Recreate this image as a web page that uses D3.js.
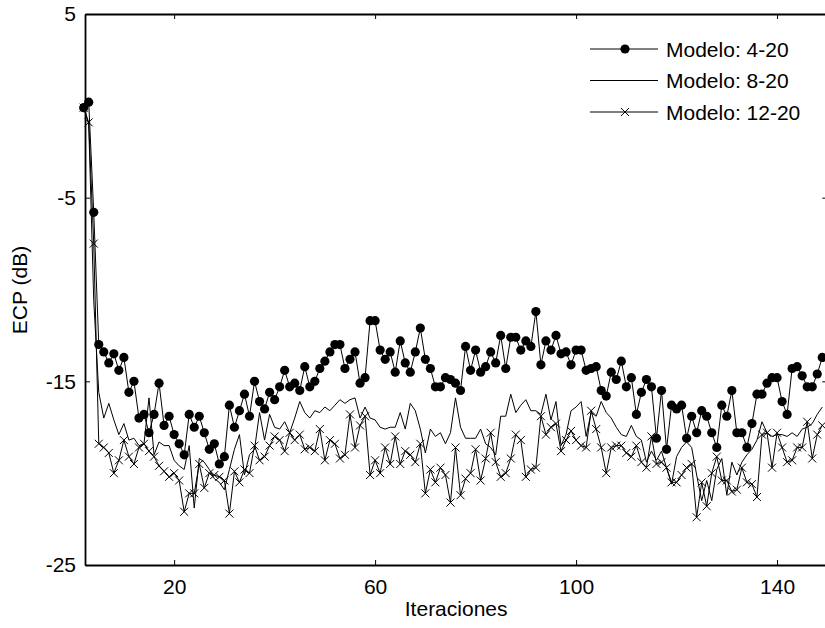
<!DOCTYPE html>
<html>
<head>
<meta charset="utf-8">
<script src="https://cdn.jsdelivr.net/npm/d3@7"></script>
<style>
  body { margin: 0; background: #fff; }
  svg { display: block; }
  text { font-family: "Liberation Sans", Arial, sans-serif; fill: #000; }
</style>
</head>
<body>
<svg id="chart" width="825" height="628"></svg>
<script>
// iteration index of every sample
const iteraciones = d3.range(2, 150);

// ECP (dB) per model
const modelo4 = [
  -0.1, 0.2, -5.8, -13.0, -13.4, -14.0, -13.5, -14.4, -13.7, -15.6,
  -15.0, -17.0, -16.8, -17.8, -16.8, -15.1, -17.4, -16.9, -17.9, -18.4,
  -19.0, -16.8, -17.5, -16.9, -17.8, -18.7, -18.4, -19.5, -19.1, -16.3,
  -17.5, -16.6, -15.7, -16.9, -15.0, -16.1, -16.5, -15.6, -16.0, -15.3,
  -14.4, -15.3, -15.1, -15.5, -14.2, -15.3, -15.0, -14.3, -13.9, -13.4,
  -13.0, -13.0, -14.3, -13.8, -13.4, -15.1, -14.8, -11.7, -11.7, -13.3,
  -13.8, -13.4, -14.5, -12.8, -14.0, -14.5, -13.4, -12.1, -13.8, -14.3,
  -15.3, -15.3, -14.8, -14.9, -15.1, -15.5, -13.1, -14.4, -13.3, -14.5,
  -14.2, -13.4, -14.0, -12.5, -14.3, -12.6, -12.6, -13.3, -12.8, -13.1,
  -11.2, -14.1, -12.8, -13.3, -12.5, -13.5, -13.4, -14.1, -13.3, -13.3,
  -14.4, -14.3, -14.2, -15.5, -15.8, -14.5, -14.9, -13.9, -15.3, -14.8,
  -16.8, -15.6, -14.9, -15.3, -18.1, -15.5, -18.7, -16.3, -16.5, -16.3,
  -18.1, -16.9, -17.8, -16.6, -16.9, -17.8, -18.6, -16.3, -16.9, -15.5,
  -17.8, -17.8, -18.6, -17.3, -15.7, -15.7, -15.1, -14.8, -14.8, -16.1,
  -16.8, -14.3, -14.2, -14.7, -15.3, -15.3, -14.6, -13.7
];
const modelo8 = [
  -0.1, -1.0, -10.6, -15.6, -17.0, -16.2, -17.1, -17.9, -17.3, -18.2,
  -18.1, -18.5, -18.4, -15.9, -19.0, -18.3, -18.5, -18.5, -19.3, -19.6,
  -19.8, -18.5, -21.9, -19.2, -19.4, -19.8, -20.3, -20.5, -20.9, -19.8,
  -18.7, -17.9, -20.1, -19.0, -18.7, -16.7, -18.2, -16.8, -17.5, -17.6,
  -17.2, -17.8, -17.0, -16.1, -16.7, -17.0, -16.6, -16.7, -16.4, -16.6,
  -16.3, -16.0, -16.2, -16.0, -15.9, -17.0, -16.4, -17.0, -17.1, -17.5,
  -17.6, -17.5, -17.5, -16.7, -17.6, -16.2, -16.6, -17.6, -18.9, -17.6,
  -18.0, -17.8, -18.4, -17.8, -15.9, -17.5, -18.1, -18.1, -18.1, -17.6,
  -18.4, -18.6, -19.0, -16.9, -16.9, -15.7, -16.7, -16.3, -16.0, -16.6,
  -16.6, -16.8, -15.7, -17.1, -16.1, -18.5, -17.9, -16.6, -16.4, -16.1,
  -18.0, -16.7, -16.9, -16.1, -16.7, -17.0, -17.5, -17.9, -18.0, -17.4,
  -18.0, -18.2, -19.4, -18.8, -19.3, -18.8, -19.7, -20.6, -19.1, -18.6,
  -18.3, -18.6, -20.1, -21.5, -20.4, -21.5, -19.8, -19.2, -21.2, -19.4,
  -20.1, -19.4, -19.0, -18.7, -18.2, -17.2, -17.8, -18.0, -17.9, -17.9,
  -18.0, -17.8, -18.0, -17.6, -17.5, -17.3, -16.8, -16.4
];
const modelo12 = [
  -0.1, -0.9, -7.5, -18.4, -18.6, -18.9, -20.0, -19.3, -18.2, -19.1,
  -19.5, -18.6, -18.4, -18.8, -19.1, -19.6, -19.9, -20.2, -20.0, -20.4,
  -22.1, -21.1, -21.1, -19.5, -20.8, -20.0, -20.1, -20.2, -20.4, -22.2,
  -19.9, -20.5, -19.8, -20.0, -18.5, -19.3, -19.1, -18.5, -18.0, -18.2,
  -18.8, -17.8, -18.2, -17.9, -18.7, -18.6, -18.8, -17.6, -19.3, -18.2,
  -18.4, -19.2, -19.0, -16.8, -18.6, -17.4, -16.9, -20.1, -19.3, -20.0,
  -18.6, -19.5, -18.0, -19.5, -18.8, -19.0, -19.4, -18.4, -21.1, -19.8,
  -20.5, -19.7, -20.1, -21.6, -18.6, -21.2, -20.3, -20.0, -18.7, -20.4,
  -19.2, -17.8, -19.4, -20.2, -20.0, -19.2, -17.9, -18.2, -20.2, -19.8,
  -19.7, -16.9, -17.9, -17.5, -17.3, -18.8, -18.2, -17.7, -18.2, -18.5,
  -18.6, -16.6, -17.6, -18.6, -20.0, -18.6, -18.5, -18.5, -18.9, -19.1,
  -18.5, -19.4, -19.7, -18.0, -19.5, -19.4, -19.7, -20.5, -20.5, -20.1,
  -19.7, -19.5, -22.4, -20.5, -21.8, -20.0, -19.1, -20.4, -20.4, -21.0,
  -20.9, -19.7, -20.5, -20.6, -21.3, -17.9, -17.8, -19.7, -17.8, -18.6,
  -19.4, -19.3, -18.6, -18.6, -17.2, -19.2, -17.9, -17.4
];

const seriesNames = ["Modelo: 4-20", "Modelo: 8-20", "Modelo: 12-20"];
const xTicks = [20, 60, 100, 140];
const yTicks = [5, -5, -15, -25];

const svg = d3.select("#chart");
const plotLeft = 85, plotTop = 14, plotBottom = 565, plotRight = 827.3;
const fontSize = "21px";

const x = d3.scaleLinear().domain([2.26, 150]).range([plotLeft, plotRight]);
const y = d3.scaleLinear().domain([-25, 5]).range([plotBottom, plotTop]);

const series = [
  { name: seriesNames[0], values: modelo4, marker: "dot" },
  { name: seriesNames[1], values: modelo8, marker: "none" },
  { name: seriesNames[2], values: modelo12, marker: "cross" }
];

const line = d3.line()
  .x((d, i) => x(iteraciones[i]))
  .y(d => y(d));

const crossPath = "M-4,-4L4,4M-4,4L4,-4";

const plot = svg.append("g");

// draw from back to front so the dots stay on top
series.slice().reverse().forEach(s => {
  plot.append("path")
    .datum(s.values)
    .attr("d", line)
    .attr("fill", "none")
    .attr("stroke", "#000")
    .attr("stroke-width", 1);

  if (s.marker === "dot") {
    plot.selectAll(null)
      .data(s.values)
      .join("circle")
      .attr("cx", (d, i) => x(iteraciones[i]))
      .attr("cy", d => y(d))
      .attr("r", 4.6)
      .attr("fill", "#000");
  } else if (s.marker === "cross") {
    plot.selectAll(null)
      .data(s.values)
      .join("path")
      .attr("transform", (d, i) => `translate(${x(iteraciones[i])},${y(d)})`)
      .attr("d", crossPath)
      .attr("fill", "none")
      .attr("stroke", "#000")
      .attr("stroke-width", 1);
  }
});

// axes: box with inward ticks
const bottomAxis = d3.axisBottom(x).tickValues(xTicks).tickSizeInner(-5).tickSizeOuter(0).tickPadding(14);
const topAxis = d3.axisTop(x).tickValues(xTicks).tickSizeInner(-5).tickSizeOuter(0).tickFormat("");
const leftAxis = d3.axisLeft(y).tickValues(yTicks).tickSizeInner(-5).tickSizeOuter(0).tickPadding(9)
  .tickFormat(d => String(d));
const rightAxis = d3.axisRight(y).tickValues(yTicks).tickSizeInner(-5).tickSizeOuter(0).tickFormat("");

svg.append("g").attr("transform", `translate(0,${plotBottom})`).call(bottomAxis);
svg.append("g").attr("transform", `translate(0,${plotTop})`).call(topAxis);
svg.append("g").attr("transform", `translate(${plotLeft},0)`).call(leftAxis);
svg.append("g").attr("transform", `translate(${plotRight},0)`).call(rightAxis);

svg.selectAll(".domain").attr("stroke", "#000").attr("stroke-width", 1.8);
svg.selectAll(".tick line").attr("stroke", "#000").attr("stroke-width", 1);
svg.selectAll(".tick text").style("font-size", fontSize).attr("fill", "#000");

svg.append("text")
  .attr("transform", "translate(27,290) rotate(-90)")
  .attr("text-anchor", "middle")
  .style("font-size", fontSize)
  .text("ECP (dB)");

svg.append("text")
  .attr("x", (plotLeft + plotRight) / 2)
  .attr("y", 616)
  .attr("text-anchor", "middle")
  .style("font-size", fontSize)
  .text("Iteraciones");

// legend
const legend = svg.append("g").attr("transform", "translate(590,49)");
series.forEach((s, i) => {
  const row = legend.append("g").attr("transform", `translate(0,${i * 31.5})`);
  row.append("line")
    .attr("x1", 0).attr("x2", 68)
    .attr("stroke", "#000").attr("stroke-width", 1);
  if (s.marker === "dot") {
    row.append("circle").attr("cx", 35).attr("r", 4.6).attr("fill", "#000");
  } else if (s.marker === "cross") {
    row.append("path").attr("transform", "translate(35,0)")
      .attr("d", crossPath).attr("fill", "none").attr("stroke", "#000");
  }
  row.append("text")
    .attr("x", 76)
    .attr("y", 7.5)
    .style("font-size", fontSize)
    .text(s.name);
});
</script>
</body>
</html>
